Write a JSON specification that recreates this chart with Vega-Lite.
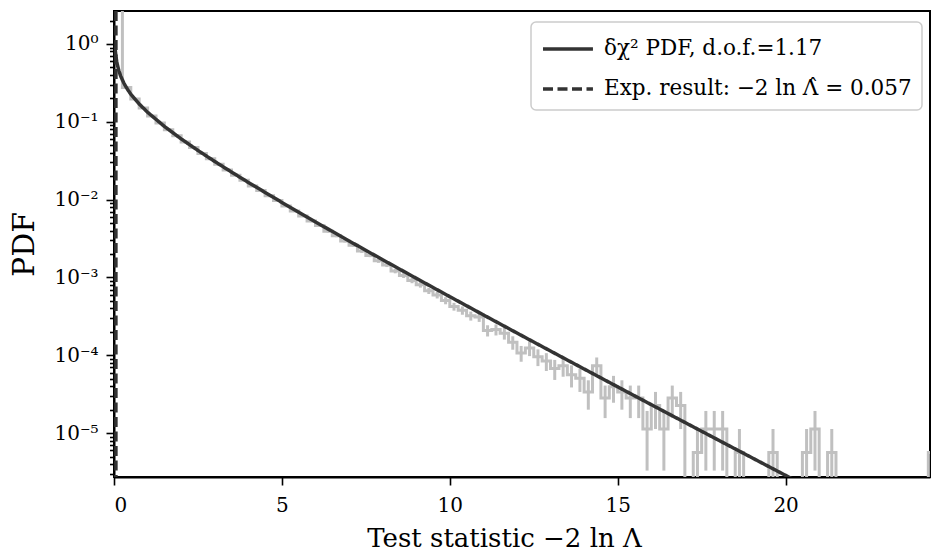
{
  "$schema": "https://vega.github.io/schema/vega-lite/v6.json",
  "width": 816,
  "height": 466,
  "autosize": {"type": "none"},
  "padding": {"left": 114, "top": 11, "right": 2, "bottom": 80},
  "background": "white",
  "config": {
    "view": {"stroke": "black", "strokeWidth": 2},
    "font": "DejaVu Serif",
    "axis": {
      "domainColor": "black",
      "domainWidth": 2,
      "tickColor": "black",
      "tickWidth": 1.6,
      "grid": false,
      "labelFont": "DejaVu Serif",
      "labelColor": "black",
      "titleFont": "DejaVu Serif",
      "titleColor": "black",
      "titleFontWeight": "normal"
    },
    "legend": {"strokeWidth": 1.5}
  },
  "datasets": {
    "hist": [
      {"e": 0, "c": 0.125, "d": 3.0},
      {"e": 0.25, "c": 0.375, "d": 0.275},
      {"e": 0.5, "c": 0.625, "d": 0.196},
      {"e": 0.75, "c": 0.875, "d": 0.150},
      {"e": 1.0, "c": 1.125, "d": 0.1185},
      {"e": 1.25, "c": 1.375, "d": 0.0965},
      {"e": 1.5, "c": 1.625, "d": 0.0790},
      {"e": 1.75, "c": 1.875, "d": 0.0662},
      {"e": 2.0, "c": 2.125, "d": 0.0550},
      {"e": 2.25, "c": 2.375, "d": 0.0468},
      {"e": 2.5, "c": 2.625, "d": 0.0392},
      {"e": 2.75, "c": 2.875, "d": 0.0336},
      {"e": 3.0, "c": 3.125, "d": 0.0284},
      {"e": 3.25, "c": 3.375, "d": 0.0240},
      {"e": 3.5, "c": 3.625, "d": 0.0206},
      {"e": 3.75, "c": 3.875, "d": 0.0177},
      {"e": 4.0, "c": 4.125, "d": 0.0150},
      {"e": 4.25, "c": 4.375, "d": 0.0131},
      {"e": 4.5, "c": 4.625, "d": 0.0112},
      {"e": 4.75, "c": 4.875, "d": 0.00975},
      {"e": 5.0, "c": 5.125, "d": 0.0083, "lo": 0.00808, "hi": 0.00852},
      {"e": 5.25, "c": 5.375, "d": 0.00712, "lo": 0.00692, "hi": 0.00732},
      {"e": 5.5, "c": 5.625, "d": 0.00618, "lo": 0.00599, "hi": 0.00637},
      {"e": 5.75, "c": 5.875, "d": 0.0053, "lo": 0.00513, "hi": 0.00547},
      {"e": 6.0, "c": 6.125, "d": 0.00465, "lo": 0.00449, "hi": 0.00481},
      {"e": 6.25, "c": 6.375, "d": 0.00392, "lo": 0.00377, "hi": 0.00407},
      {"e": 6.5, "c": 6.625, "d": 0.00343, "lo": 0.00329, "hi": 0.00357},
      {"e": 6.75, "c": 6.875, "d": 0.00294, "lo": 0.00281, "hi": 0.00307},
      {"e": 7.0, "c": 7.125, "d": 0.00259, "lo": 0.00247, "hi": 0.00271},
      {"e": 7.25, "c": 7.375, "d": 0.00218, "lo": 0.00207, "hi": 0.00229},
      {"e": 7.5, "c": 7.625, "d": 0.00192, "lo": 0.00182, "hi": 0.00202},
      {"e": 7.75, "c": 7.875, "d": 0.00164, "lo": 0.00154, "hi": 0.00174},
      {"e": 8.0, "c": 8.125, "d": 0.00145, "lo": 0.00136, "hi": 0.00154},
      {"e": 8.25, "c": 8.375, "d": 0.00121, "lo": 0.00113, "hi": 0.00129},
      {"e": 8.5, "c": 8.625, "d": 0.00106, "lo": 0.000983, "hi": 0.001137},
      {"e": 8.75, "c": 8.875, "d": 0.000915, "lo": 0.000843, "hi": 0.000987},
      {"e": 9.0, "c": 9.125, "d": 0.000808, "lo": 0.00074, "hi": 0.000876},
      {"e": 9.25, "c": 9.375, "d": 0.000675, "lo": 0.000613, "hi": 0.000737},
      {"e": 9.5, "c": 9.625, "d": 0.000595, "lo": 0.000537, "hi": 0.000653},
      {"e": 9.75, "c": 9.875, "d": 0.000505, "lo": 0.000452, "hi": 0.000558},
      {"e": 10.0, "c": 10.125, "d": 0.000423, "lo": 0.0003742, "hi": 0.0004718},
      {"e": 10.25, "c": 10.375, "d": 0.0003779, "lo": 0.0003317, "hi": 0.0004241},
      {"e": 10.5, "c": 10.625, "d": 0.0003215, "lo": 0.0002789, "hi": 0.0003641},
      {"e": 10.75, "c": 10.875, "d": 0.0003102, "lo": 0.0002684, "hi": 0.000352},
      {"e": 11.0, "c": 11.125, "d": 0.0002087, "lo": 0.0001744, "hi": 0.000243},
      {"e": 11.25, "c": 11.375, "d": 0.0002143, "lo": 0.0001796, "hi": 0.0002491},
      {"e": 11.5, "c": 11.625, "d": 0.0001918, "lo": 0.0001589, "hi": 0.0002246},
      {"e": 11.75, "c": 11.875, "d": 0.0001466, "lo": 0.0001179, "hi": 0.0001754},
      {"e": 12.0, "c": 12.125, "d": 0.0001072, "lo": 0.0000826, "hi": 0.0001318},
      {"e": 12.25, "c": 12.375, "d": 0.0001241, "lo": 0.0000976, "hi": 0.0001505},
      {"e": 12.5, "c": 12.625, "d": 0.0000959, "lo": 0.0000726, "hi": 0.0001191},
      {"e": 12.75, "c": 12.875, "d": 0.0000846, "lo": 0.0000628, "hi": 0.0001064},
      {"e": 13.0, "c": 13.125, "d": 0.0000677, "lo": 0.0000482, "hi": 0.0000872},
      {"e": 13.25, "c": 13.375, "d": 0.0000733, "lo": 0.000053, "hi": 0.0000937},
      {"e": 13.5, "c": 13.625, "d": 0.0000564, "lo": 0.0000386, "hi": 0.0000742},
      {"e": 13.75, "c": 13.875, "d": 0.0000508, "lo": 0.0000338, "hi": 0.0000677},
      {"e": 14.0, "c": 14.125, "d": 0.0000338, "lo": 0.00002, "hi": 0.0000477},
      {"e": 14.25, "c": 14.375, "d": 0.0000733, "lo": 0.000053, "hi": 0.0000937},
      {"e": 14.5, "c": 14.625, "d": 0.0000282, "lo": 0.00001559, "hi": 0.00004081},
      {"e": 14.75, "c": 14.875, "d": 0.0000395, "lo": 0.00002456, "hi": 0.0000544},
      {"e": 15.0, "c": 15.125, "d": 0.0000338, "lo": 0.00002, "hi": 0.0000477},
      {"e": 15.25, "c": 15.375, "d": 0.0000282, "lo": 0.00001559, "hi": 0.00004081},
      {"e": 15.5, "c": 15.625, "d": 0.0000282, "lo": 0.00001559, "hi": 0.00004081},
      {"e": 15.75, "c": 15.875, "d": 0.00001128, "lo": 0.0000033, "hi": 0.00001926},
      {"e": 16.0, "c": 16.125, "d": 0.00002256, "lo": 0.00001128, "hi": 0.00003384},
      {"e": 16.25, "c": 16.375, "d": 0.00001128, "lo": 0.0000033, "hi": 0.00001926},
      {"e": 16.5, "c": 16.625, "d": 0.0000282, "lo": 0.00001559, "hi": 0.00004081},
      {"e": 16.75, "c": 16.875, "d": 0.00002256, "lo": 0.00001128, "hi": 0.00003384},
      {"e": 17.0, "c": 17.125, "d": 1e-9},
      {"e": 17.25, "c": 17.375, "d": 0.00000564, "lo": 1e-9, "hi": 0.00001128},
      {"e": 17.5, "c": 17.625, "d": 0.00001128, "lo": 0.0000033, "hi": 0.00001926},
      {"e": 17.75, "c": 17.875, "d": 0.00001128, "lo": 0.0000033, "hi": 0.00001926},
      {"e": 18.0, "c": 18.125, "d": 0.00001128, "lo": 0.0000033, "hi": 0.00001926},
      {"e": 18.25, "c": 18.375, "d": 1e-9},
      {"e": 18.5, "c": 18.625, "d": 0.00000564, "lo": 1e-9, "hi": 0.00001128},
      {"e": 18.75, "c": 18.875, "d": 1e-9},
      {"e": 19.0, "c": 19.125, "d": 1e-9},
      {"e": 19.25, "c": 19.375, "d": 1e-9},
      {"e": 19.5, "c": 19.625, "d": 0.00000564, "lo": 1e-9, "hi": 0.00001128},
      {"e": 19.75, "c": 19.875, "d": 1e-9},
      {"e": 20.0, "c": 20.125, "d": 1e-9},
      {"e": 20.25, "c": 20.375, "d": 1e-9},
      {"e": 20.5, "c": 20.625, "d": 0.00000564, "lo": 1e-9, "hi": 0.00001128},
      {"e": 20.75, "c": 20.875, "d": 0.00001128, "lo": 0.0000033, "hi": 0.00001926},
      {"e": 21.0, "c": 21.125, "d": 1e-9},
      {"e": 21.25, "c": 21.375, "d": 0.00000564, "lo": 1e-9, "hi": 0.00001128},
      {"e": 21.5, "c": 21.625, "d": 1e-9},
      {"e": 21.75, "c": 21.875, "d": 1e-9},
      {"e": 22.0, "c": 22.125, "d": 1e-9},
      {"e": 22.25, "c": 22.375, "d": 1e-9},
      {"e": 22.5, "c": 22.625, "d": 1e-9},
      {"e": 22.75, "c": 22.875, "d": 1e-9},
      {"e": 23.0, "c": 23.125, "d": 1e-9},
      {"e": 23.25, "c": 23.375, "d": 1e-9},
      {"e": 23.5, "c": 23.625, "d": 1e-9},
      {"e": 23.75, "c": 23.875, "d": 1e-9},
      {"e": 24.0, "c": 24.125, "d": 1e-9},
      {"e": 24.25, "c": 24.375, "d": 0.00000564, "lo": 1e-9, "hi": 0.00001128},
      {"e": 24.5, "d": 0.00000564}
    ],
    "curve": [
      {"x": 0.03, "y": 0.9226, "series": "δχ² PDF, d.o.f.=1.17"},
      {"x": 0.04, "y": 0.8147, "series": "δχ² PDF, d.o.f.=1.17"},
      {"x": 0.06, "y": 0.6816, "series": "δχ² PDF, d.o.f.=1.17"},
      {"x": 0.08, "y": 0.5990, "series": "δχ² PDF, d.o.f.=1.17"},
      {"x": 0.1, "y": 0.5405, "series": "δχ² PDF, d.o.f.=1.17"},
      {"x": 0.15, "y": 0.4455, "series": "δχ² PDF, d.o.f.=1.17"},
      {"x": 0.2, "y": 0.3856, "series": "δχ² PDF, d.o.f.=1.17"},
      {"x": 0.3, "y": 0.3100, "series": "δχ² PDF, d.o.f.=1.17"},
      {"x": 0.4, "y": 0.2617, "series": "δχ² PDF, d.o.f.=1.17"},
      {"x": 0.5, "y": 0.2269, "series": "δχ² PDF, d.o.f.=1.17"},
      {"x": 0.75, "y": 0.16926, "series": "δχ² PDF, d.o.f.=1.17"},
      {"x": 1, "y": 0.13255, "series": "δχ² PDF, d.o.f.=1.17"},
      {"x": 1.5, "y": 0.08725, "series": "δχ² PDF, d.o.f.=1.17"},
      {"x": 2, "y": 0.06030, "series": "δχ² PDF, d.o.f.=1.17"},
      {"x": 2.5, "y": 0.04281, "series": "δχ² PDF, d.o.f.=1.17"},
      {"x": 3, "y": 0.03091, "series": "δχ² PDF, d.o.f.=1.17"},
      {"x": 3.5, "y": 0.02259, "series": "δχ² PDF, d.o.f.=1.17"},
      {"x": 4, "y": 0.016637, "series": "δχ² PDF, d.o.f.=1.17"},
      {"x": 5, "y": 0.0092, "series": "δχ² PDF, d.o.f.=1.17"},
      {"x": 6, "y": 0.005173, "series": "δχ² PDF, d.o.f.=1.17"},
      {"x": 7, "y": 0.002943, "series": "δχ² PDF, d.o.f.=1.17"},
      {"x": 8, "y": 0.0016888, "series": "δχ² PDF, d.o.f.=1.17"},
      {"x": 9, "y": 0.0009755, "series": "δχ² PDF, d.o.f.=1.17"},
      {"x": 10, "y": 0.0005664, "series": "δχ² PDF, d.o.f.=1.17"},
      {"x": 11, "y": 0.0003302, "series": "δχ² PDF, d.o.f.=1.17"},
      {"x": 12, "y": 0.00019318, "series": "δχ² PDF, d.o.f.=1.17"},
      {"x": 13, "y": 0.00011333, "series": "δχ² PDF, d.o.f.=1.17"},
      {"x": 14, "y": 0.00006666, "series": "δχ² PDF, d.o.f.=1.17"},
      {"x": 15, "y": 0.00003929, "series": "δχ² PDF, d.o.f.=1.17"},
      {"x": 16, "y": 0.0000232, "series": "δχ² PDF, d.o.f.=1.17"},
      {"x": 17, "y": 0.000013722, "series": "δχ² PDF, d.o.f.=1.17"},
      {"x": 18, "y": 0.000008127, "series": "δχ² PDF, d.o.f.=1.17"},
      {"x": 19, "y": 0.000004821, "series": "δχ² PDF, d.o.f.=1.17"},
      {"x": 20, "y": 0.000002862, "series": "δχ² PDF, d.o.f.=1.17"},
      {"x": 21, "y": 0.000001701, "series": "δχ² PDF, d.o.f.=1.17"}
    ],
    "obs": [
      {"x": 0.057, "series": "Exp. result: −2 ln Λ̂ = 0.057"}
    ]
  },
  "layer": [
    {
      "data": {"name": "hist"},
      "mark": {"type": "line", "interpolate": "step-after", "color": "#c0c0c0", "strokeWidth": 3, "clip": true},
      "encoding": {
        "x": {
          "field": "e", "type": "quantitative",
          "scale": {"domain": [0, 24.3], "nice": false, "zero": false},
          "title": "Test statistic −2 ln Λ",
          "axis": {
            "values": [0, 5, 10, 15, 20],
            "labelFontSize": 20,
            "tickSize": 8,
            "labelPadding": 10,
            "titleFontSize": 26,
            "titlePadding": 10,
            "titleX": 390,
            "titleAlign": "center"
          }
        },
        "y": {
          "field": "d", "type": "quantitative",
          "scale": {"type": "log", "domain": [0.00000273, 2.65], "nice": false},
          "title": "PDF",
          "axis": {
            "values": [0.000003, 0.000004, 0.000005, 0.000006, 0.000007, 0.000008, 0.000009,
                       0.00001, 0.00002, 0.00003, 0.00004, 0.00005, 0.00006, 0.00007, 0.00008, 0.00009,
                       0.0001, 0.0002, 0.0003, 0.0004, 0.0005, 0.0006, 0.0007, 0.0008, 0.0009,
                       0.001, 0.002, 0.003, 0.004, 0.005, 0.006, 0.007, 0.008, 0.009,
                       0.01, 0.02, 0.03, 0.04, 0.05, 0.06, 0.07, 0.08, 0.09,
                       0.1, 0.2, 0.3, 0.4, 0.5, 0.6, 0.7, 0.8, 0.9, 1, 2],
            "labelExpr": "datum.value === 1 ? '10⁰' : datum.value === 0.1 ? '10⁻¹' : datum.value === 0.01 ? '10⁻²' : datum.value === 0.001 ? '10⁻³' : datum.value === 0.0001 ? '10⁻⁴' : datum.value === 0.00001 ? '10⁻⁵' : ''",
            "tickSize": {"condition": {"test": "indexof([1, 0.1, 0.01, 0.001, 0.0001, 0.00001], datum.value) >= 0", "value": 8}, "value": 4.5},
            "labelFontSize": 20,
            "labelPadding": 8,
            "labelOverlap": false,
            "titleFontSize": 30,
            "titlePadding": 14
          }
        }
      }
    },
    {
      "data": {"name": "hist"},
      "mark": {"type": "rule", "color": "#c0c0c0", "strokeWidth": 3, "clip": true},
      "encoding": {
        "x": {"field": "c", "type": "quantitative", "title": "Test statistic −2 ln Λ"},
        "y": {"field": "lo", "type": "quantitative", "title": "PDF"},
        "y2": {"field": "hi"}
      }
    },
    {
      "data": {"name": "curve"},
      "mark": {"type": "line", "color": "#333333", "strokeWidth": 3.5, "clip": true},
      "encoding": {
        "x": {"field": "x", "type": "quantitative", "title": "Test statistic −2 ln Λ"},
        "y": {"field": "y", "type": "quantitative", "title": "PDF"},
        "strokeDash": {
          "field": "series", "type": "nominal",
          "scale": {"domain": ["δχ² PDF, d.o.f.=1.17", "Exp. result: −2 ln Λ̂ = 0.057"], "range": [[1, 0], [10, 4.5]]},
          "legend": {
            "title": null,
            "orient": "none",
            "legendX": 417,
            "legendY": 11,
            "padding": 10,
            "rowPadding": 12,
            "labelFontSize": 21.5,
            "labelFont": "DejaVu Serif",
            "labelColor": "black",
            "labelOffset": 29,
            "labelLimit": 420,
            "symbolType": "M-1,0L2.33,0",
            "symbolSize": 900,
            "symbolStrokeWidth": 3.5,
            "symbolStrokeColor": "#333333",
            "symbolFillColor": "transparent",
            "strokeColor": "#cccccc",
            "fillColor": "rgba(255,255,255,0.8)",
            "cornerRadius": 5
          }
        }
      }
    },
    {
      "data": {"name": "obs"},
      "mark": {"type": "rule", "color": "#333333", "strokeWidth": 3.5, "clip": true},
      "encoding": {
        "x": {"field": "x", "type": "quantitative", "title": "Test statistic −2 ln Λ"},
        "strokeDash": {"field": "series", "type": "nominal"}
      }
    }
  ]
}
